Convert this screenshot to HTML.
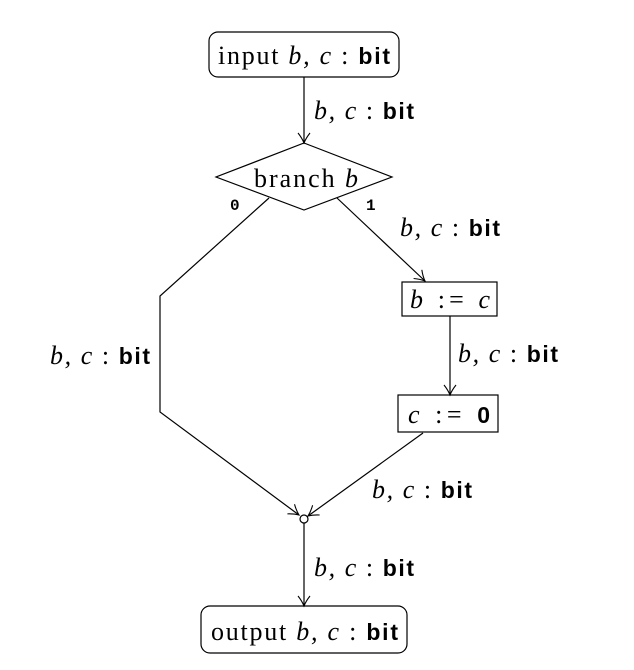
<!DOCTYPE html>
<html><head><meta charset="utf-8"><style>
body{margin:0;background:#fff}
svg{display:block}
text{font-family:"Liberation Serif",serif;font-size:26px;fill:#000}
.i{font-style:italic}
.b{font-family:"Liberation Sans",sans-serif;font-weight:bold;font-size:23px}
.s{font-family:"Liberation Mono",monospace;font-weight:bold;font-size:16px}
line,polyline,rect,polygon,circle{stroke:#000;stroke-width:1.2;fill:none}
</style></head><body>
<svg width="634" height="670" viewBox="0 0 634 670">
<defs><marker id="a" markerWidth="14" markerHeight="14" refX="12" refY="7" orient="auto" markerUnits="userSpaceOnUse"><path d="M2,1 Q7,5 12,7 Q7,9 2,13" fill="none" stroke="#000" stroke-width="1.1"/></marker></defs>
<g><rect x="209" y="32" width="190" height="45" rx="9"/>
<text x="218" y="64" textLength="172" lengthAdjust="spacing">input <tspan class="i">b, c</tspan> : <tspan class="b">bit</tspan></text></g>
<line x1="304" y1="77" x2="304" y2="143" marker-end="url(#a)"/>
<text x="314" y="119" textLength="100" lengthAdjust="spacing"><tspan class="i">b, c</tspan> : <tspan class="b">bit</tspan></text>
<g><polygon points="304,143 392,177 304,210 216,177"/>
<text x="254" y="187" textLength="104" lengthAdjust="spacing">branch <tspan class="i">b</tspan></text></g>
<text x="230" y="210" class="s">0</text>
<text x="366" y="210" class="s">1</text>
<polyline points="269,198 160,296 160,412 299,515" marker-end="url(#a)"/>
<text x="50" y="364" textLength="100" lengthAdjust="spacing"><tspan class="i">b, c</tspan> : <tspan class="b">bit</tspan></text>
<line x1="337" y1="198" x2="425" y2="281" marker-end="url(#a)"/>
<text x="400" y="236" textLength="100" lengthAdjust="spacing"><tspan class="i">b, c</tspan> : <tspan class="b">bit</tspan></text>
<g><rect x="402" y="282" width="95" height="34"/>
<text x="410" y="308" class="i" textLength="80" lengthAdjust="spacing">b <tspan style="font-style:normal">:=</tspan> c</text></g>
<line x1="450" y1="316" x2="450" y2="395" marker-end="url(#a)"/>
<text x="458" y="362" textLength="100" lengthAdjust="spacing"><tspan class="i">b, c</tspan> : <tspan class="b">bit</tspan></text>
<g><rect x="398" y="395" width="100" height="37"/>
<text x="408" y="423" textLength="82" lengthAdjust="spacing"><tspan class="i">c</tspan> := <tspan class="b">0</tspan></text></g>
<line x1="423" y1="433" x2="308" y2="516" marker-end="url(#a)"/>
<text x="372" y="498" textLength="100" lengthAdjust="spacing"><tspan class="i">b, c</tspan> : <tspan class="b">bit</tspan></text>
<circle cx="304" cy="519" r="4"/>
<line x1="304" y1="523" x2="304" y2="606" marker-end="url(#a)"/>
<text x="314" y="576" textLength="100" lengthAdjust="spacing"><tspan class="i">b, c</tspan> : <tspan class="b">bit</tspan></text>
<g><rect x="201" y="606" width="206" height="47" rx="9"/>
<text x="211" y="640" textLength="187" lengthAdjust="spacing">output <tspan class="i">b, c</tspan> : <tspan class="b">bit</tspan></text></g>
</svg>
</body></html>
